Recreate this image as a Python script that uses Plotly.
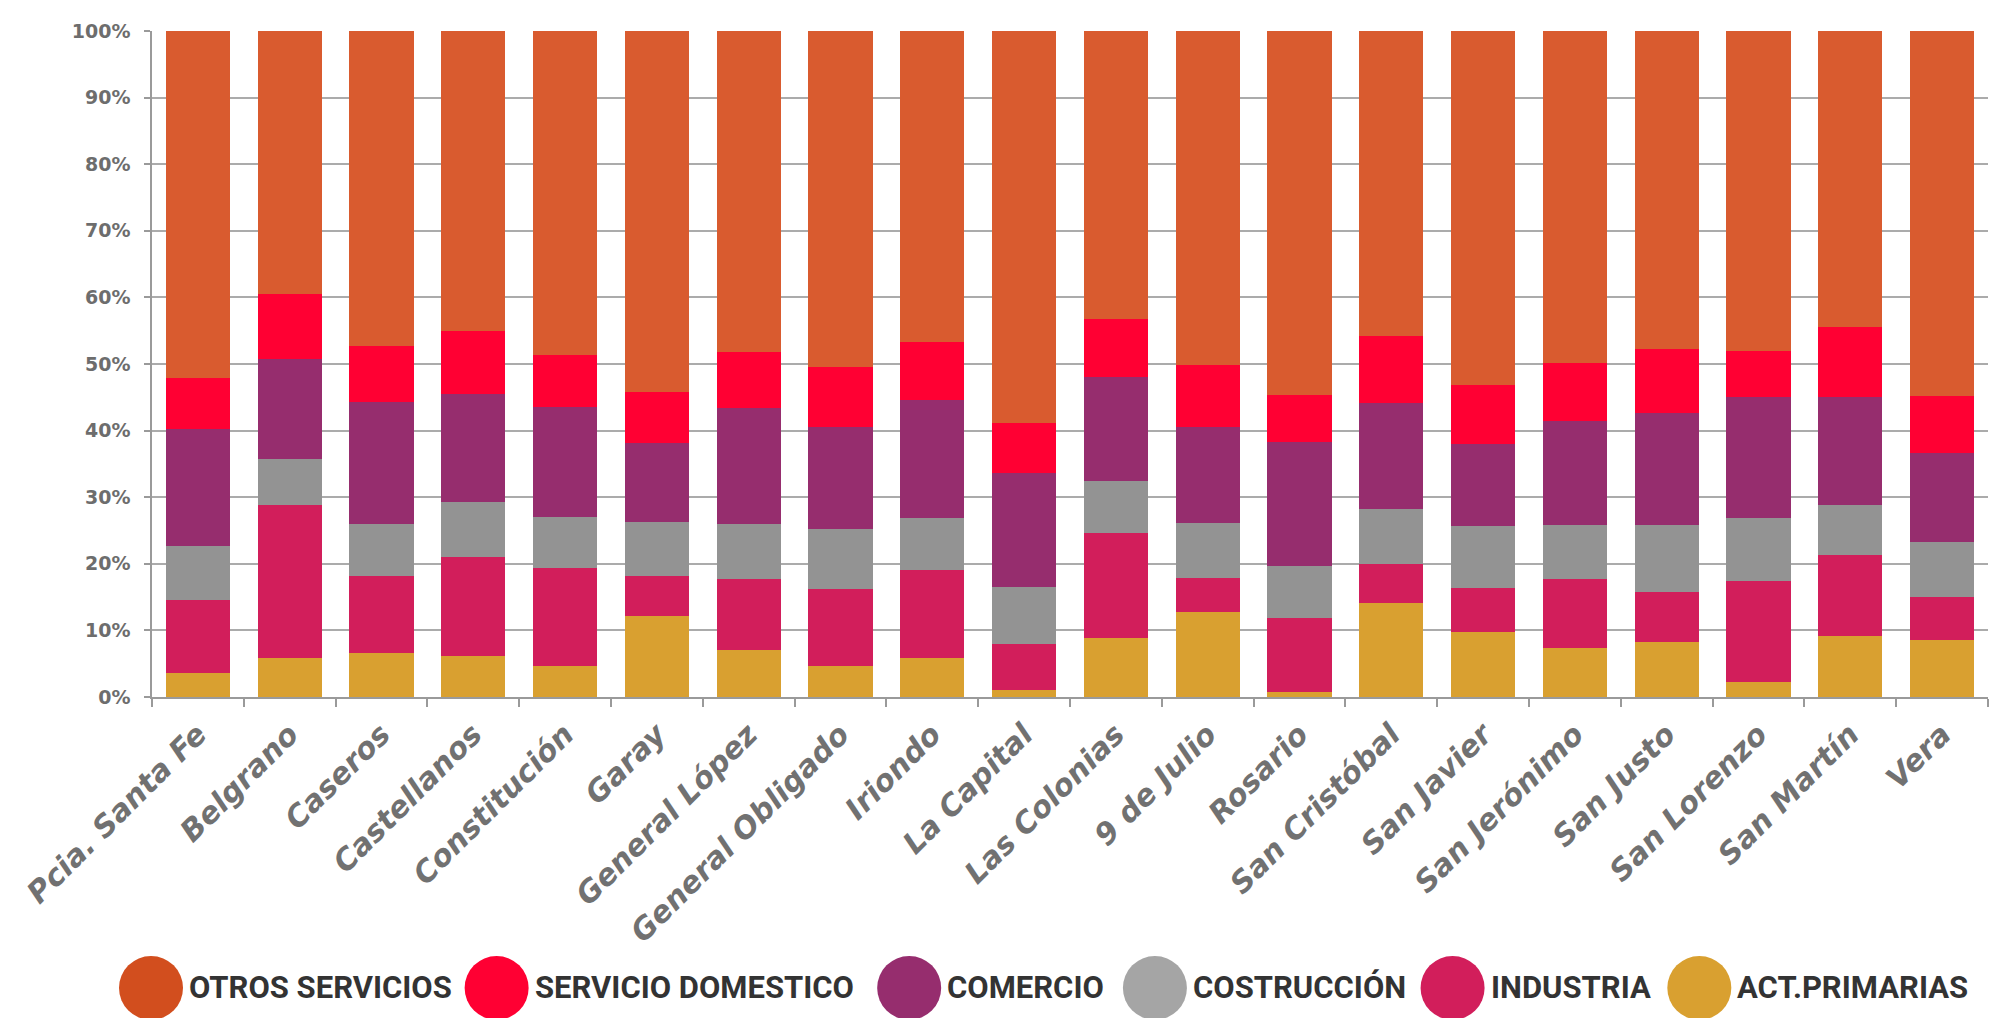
import plotly.graph_objects as go

categories = ["Pcia. Santa Fe", "Belgrano", "Caseros", "Castellanos", "Constitución",
              "Garay", "General López", "General Obligado", "Iriondo", "La Capital",
              "Las Colonias", "9 de Julio", "Rosario", "San Cristóbal", "San Javier",
              "San Jerónimo", "San Justo", "San Lorenzo", "San Martín", "Vera"]

act_primarias = [3.6, 5.8, 6.6, 6.1, 4.7, 12.1, 7.0, 4.6, 5.8, 1.0,
                 8.8, 12.8, 0.8, 14.1, 9.7, 7.3, 8.3, 2.3, 9.1, 8.5]
industria = [10.9, 23.0, 11.6, 14.9, 14.6, 6.1, 10.7, 11.6, 13.3, 7.0,
             15.9, 5.1, 11.0, 5.8, 6.7, 10.4, 7.4, 15.1, 12.2, 6.5]
construccion = [8.2, 6.9, 7.8, 8.3, 7.8, 8.1, 8.3, 9.0, 7.8, 8.5,
                7.8, 8.3, 7.8, 8.3, 9.3, 8.2, 10.2, 9.5, 7.6, 8.3]
comercio = [17.5, 15.0, 18.3, 16.2, 16.5, 11.8, 17.4, 15.3, 17.7, 17.2,
            15.5, 14.3, 18.7, 15.9, 12.3, 15.5, 16.7, 18.2, 16.2, 13.3]
servicio_domestico = [7.7, 9.8, 8.4, 9.5, 7.7, 7.7, 8.4, 9.1, 8.7, 7.5,
                      8.7, 9.4, 7.0, 10.1, 8.9, 8.7, 9.7, 6.9, 10.4, 8.6]
otros_servicios = [52.1, 39.5, 47.3, 45.0, 48.7, 54.2, 48.2, 50.4, 46.7, 58.8,
                   43.3, 50.1, 54.7, 45.8, 53.1, 49.9, 47.7, 48.0, 44.5, 54.8]

y_ticks = [0, 10, 20, 30, 40, 50, 60, 70, 80, 90, 100]
y_tick_labels = ["0%", "10%", "20%", "30%", "40%", "50%", "60%", "70%", "80%", "90%", "100%"]

# stacking order bottom -> top
series = [
    ("ACT.PRIMARIAS", act_primarias, "#D9A030", "#D9A030"),
    ("INDUSTRIA", industria, "#D21E5B", "#D21E5B"),
    ("COSTRUCCIÓN", construccion, "#939393", "#A5A5A5"),
    ("COMERCIO", comercio, "#962D6E", "#962D6E"),
    ("SERVICIO DOMESTICO", servicio_domestico, "#FF0033", "#FF0033"),
    ("OTROS SERVICIOS", otros_servicios, "#D95B2F", "#D24E1E"),
]

OFF = 8  # default body margin of the html page
W, H = 2002, 1018
# plot area in page pixels
PX0, PX1, PY0, PY1 = 150, 1988, 24, 697
L, R, T, B = PX0 - OFF, W - (PX1 - OFF), PY0 - OFF, H - (PY1 - OFF)
pw, ph = W - L - R, H - T - B

def px_x(px):
    return (px - PX0) / pw

def px_y(py):
    return (PY1 - py) / ph

fig = go.Figure()
for name, vals, col, _ in series:
    fig.add_trace(go.Bar(x=categories, y=vals, name=name, marker_color=col,
                         marker_line_width=0, showlegend=False))

# manual legend (large circles), in reference order
legend_order = ["OTROS SERVICIOS", "SERVICIO DOMESTICO", "COMERCIO", "COSTRUCCIÓN", "INDUSTRIA", "ACT.PRIMARIAS"]
legend_centers = [149, 495, 908, 1154, 1452, 1699]
lookup = {s[0]: s for s in series}
shapes = []
annotations = []
cy = 991
for name, cx in zip(legend_order, legend_centers):
    lc = lookup[name][3]
    shapes.append(dict(type="circle", xref="paper", yref="paper",
                       xsizemode="pixel", ysizemode="pixel",
                       xanchor=px_x(cx), yanchor=px_y(cy),
                       x0=-32, x1=32, y0=-32, y1=32,
                       fillcolor=lc, line_width=0, layer="above"))
    annotations.append(dict(xref="paper", yref="paper", x=px_x(cx + 36), y=px_y(cy),
                            xanchor="left", yanchor="middle", showarrow=False,
                            text=name,
                            font=dict(family="Roboto", size=31, color="#333333", weight="bold")))

fig.update_layout(
    barmode="stack", barnorm="percent", bargap=0.30,
    width=W, height=H,
    margin=dict(l=L, r=R, t=T, b=B, pad=0),
    paper_bgcolor="white", plot_bgcolor="white",
    shapes=shapes, annotations=annotations,
)
fig.update_xaxes(
    type="category", tickangle=-45, tickson="boundaries",
    ticks="outside", ticklen=8, tickcolor="#9a9a9a", tickwidth=1.5,
    showline=True, linecolor="#9a9a9a", linewidth=1.5,
    showgrid=False, ticklabelstandoff=6,
    tickfont=dict(family="DejaVu Sans", size=30, color="#717171", weight="bold", style="italic"),
)
fig.update_yaxes(
    range=[0, 100], tickvals=y_ticks, ticktext=y_tick_labels,
    ticks="outside", ticklen=6, tickcolor="#9a9a9a", tickwidth=1.5,
    showline=True, linecolor="#9a9a9a", linewidth=1.5,
    showgrid=True, gridcolor="#ababab", gridwidth=1.5,
    zeroline=False, ticklabelstandoff=10, ticklabeloverflow="allow",
    tickfont=dict(family="DejaVu Sans", size=19, color="#6d6d6d", weight="bold"),
)

fig.write_html("out.html")
